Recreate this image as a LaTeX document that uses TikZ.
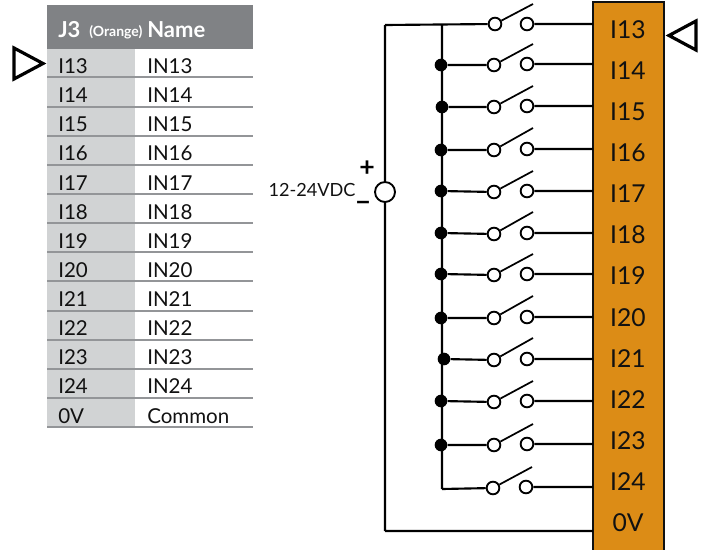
\documentclass[tikz,border=0pt]{standalone}
\usepackage{fontspec}
\setmainfont{Lato}
\definecolor{headgrey}{HTML}{808285}
\definecolor{colgrey}{HTML}{D1D3D4}
\definecolor{rulegrey}{HTML}{939598}
\definecolor{pinorange}{HTML}{DC8C16}
\definecolor{inkblack}{HTML}{111111}
\begin{document}
\begin{tikzpicture}[x=.75pt,y=-.75pt,
term/.style={draw=black,fill=white,circle,line width=1.4pt,minimum size=9.5pt,inner sep=0pt},
junc/.style={fill=black,circle,minimum size=9.5pt,inner sep=0pt},
wire/.style={line width=1.6pt},
blade/.style={line width=1.3pt},
cell/.style={anchor=west,inner sep=0pt,font=\fontsize{15.4}{16}\selectfont,text=inkblack},
head/.style={anchor=west,inner sep=0pt,text=white,font=\fontsize{16.5}{17}\selectfont\bfseries},
pin/.style={inner sep=0pt,font=\fontsize{18.5}{19}\selectfont,text=inkblack},
marker/.style={draw=black,line width=2.4pt,miter limit=8}]
\useasboundingbox (0,0) rectangle (704,550);

% table
\fill[headgrey] (47,5) rectangle (253,49);
\fill[colgrey] (47,49) rectangle (135,427);
\node (h1) at (58,30) [head] {J3};
\node (h2) at (89,32) [head,font=\fontsize{10.5}{11}\selectfont\bfseries] {(Orange)};
\node (h3) at (147,30) [head] {Name};

\node (a1) at (58,66) [cell] {I13};
\node (b1) at (147,66) [cell] {IN13};
\node (a2) at (58,95) [cell] {I14};
\node (b2) at (147,95) [cell] {IN14};
\node (a3) at (58,124) [cell] {I15};
\node (b3) at (147,124) [cell] {IN15};
\node (a4) at (58,153) [cell] {I16};
\node (b4) at (147,153) [cell] {IN16};
\node (a5) at (58,183) [cell] {I17};
\node (b5) at (147,183) [cell] {IN17};
\node (a6) at (58,212) [cell] {I18};
\node (b6) at (147,212) [cell] {IN18};
\node (a7) at (58,241) [cell] {I19};
\node (b7) at (147,241) [cell] {IN19};
\node (a8) at (58,270) [cell] {I20};
\node (b8) at (147,270) [cell] {IN20};
\node (a9) at (58,299) [cell] {I21};
\node (b9) at (147,299) [cell] {IN21};
\node (a10) at (58,328) [cell] {I22};
\node (b10) at (147,328) [cell] {IN22};
\node (a11) at (58,357) [cell] {I23};
\node (b11) at (147,357) [cell] {IN23};
\node (a12) at (58,386) [cell] {I24};
\node (b12) at (147,386) [cell] {IN24};
\node (a13) at (58,416) [cell] {0V};
\node (b13) at (147,416) [cell] {Common};

\draw[rulegrey,line width=.9pt]
(47,77) to (253,77)
(47,107) to (253,107)
(47,136) to (253,136)
(47,165) to (253,165)
(47,194) to (253,194)
(47,223) to (253,223)
(47,252) to (253,252)
(47,281) to (253,281)
(47,311) to (253,311)
(47,340) to (253,340)
(47,369) to (253,369)
(47,398) to (253,398)
(47,427) to (253,427);

\draw[marker] (14,48) -- (43,63.5) -- (14,79) -- cycle;

% terminal block
\fill[pinorange] (593,2) rectangle (664,552);
\draw[inkblack,line width=1.5pt] (593,552) -- (593,2) -- (664,2) -- (664,552);
\node (p1) at (628,30) [pin] {I13};
\node (p2) at (628,71) [pin] {I14};
\node (p3) at (628,112) [pin] {I15};
\node (p4) at (628,153) [pin] {I16};
\node (p5) at (628,194) [pin] {I17};
\node (p6) at (628,235) [pin] {I18};
\node (p7) at (628,276) [pin] {I19};
\node (p8) at (628,318) [pin] {I20};
\node (p9) at (628,359) [pin] {I21};
\node (p10) at (628,400) [pin] {I22};
\node (p11) at (628,441) [pin] {I23};
\node (p12) at (628,482) [pin] {I24};
\node (p13) at (628,523) [pin] {0V};

\draw[marker] (696,21) -- (669,35.5) -- (696,50) -- cycle;

% supply
\coordinate (c0) at (385,25);
\coordinate (c1) at (385,531);
\coordinate (e0) at (593,531);
\coordinate (j0) at (442,25);
\coordinate (j12) at (442,489);
\node (src) at (385,192) [term,minimum size=15pt] {};
\node (volt) at (312,190) [inner sep=0pt,font=\fontsize{13.6}{14}\selectfont,text=inkblack] {12-24VDC};
\node (plus) at (367,169) [inner sep=0pt,font=\fontsize{20}{20}\selectfont\bfseries] {+};
\node (minus) at (363,206) [inner sep=0pt,font=\fontsize{20}{20}\selectfont\bfseries] {\textminus};

% switches
\node (d2) at (441,65) [junc] {};
\node (d3) at (442,107) [junc] {};
\node (d4) at (441,150) [junc] {};
\node (d5) at (441,191) [junc] {};
\node (d6) at (441,233) [junc] {};
\node (d7) at (441,274) [junc] {};
\node (d8) at (441,318) [junc] {};
\node (d9) at (444,359) [junc] {};
\node (d10) at (441,401) [junc] {};
\node (d11) at (441,445) [junc] {};

\node (l1) at (495,24) [term] {};
\node (r1) at (527,24) [term] {};
\coordinate (s1) at (533,4);
\coordinate (e1) at (593,24);
\node (l2) at (494,65) [term] {};
\node (r2) at (527,64) [term] {};
\coordinate (s2) at (533,44);
\coordinate (e2) at (593,64);
\node (l3) at (494,107) [term] {};
\node (r3) at (527,106) [term] {};
\coordinate (s3) at (533,86);
\coordinate (e3) at (593,106);
\node (l4) at (494,150) [term] {};
\node (r4) at (527,149) [term] {};
\coordinate (s4) at (533,128);
\coordinate (e4) at (593,149);
\node (l5) at (494,192) [term] {};
\node (r5) at (527,191) [term] {};
\coordinate (s5) at (533,171);
\coordinate (e5) at (593,191);
\node (l6) at (494,234) [term] {};
\node (r6) at (527,233) [term] {};
\coordinate (s6) at (533,212);
\coordinate (e6) at (593,233);
\node (l7) at (494,275) [term] {};
\node (r7) at (527,274) [term] {};
\coordinate (s7) at (533,254);
\coordinate (e7) at (593,274);
\node (l8) at (494,318) [term] {};
\node (r8) at (527,317) [term] {};
\coordinate (s8) at (533,296);
\coordinate (e8) at (593,317);
\node (l9) at (494,360) [term] {};
\node (r9) at (527,359) [term] {};
\coordinate (s9) at (533,338);
\coordinate (e9) at (593,359);
\node (l10) at (494,402) [term] {};
\node (r10) at (527,401) [term] {};
\coordinate (s10) at (533,381);
\coordinate (e10) at (593,401);
\node (l11) at (494,445) [term] {};
\node (r11) at (527,444) [term] {};
\coordinate (s11) at (533,424);
\coordinate (e11) at (593,444);
\node (l12) at (493,488) [term] {};
\node (r12) at (526,487) [term] {};
\coordinate (s12) at (532,467);
\coordinate (e12) at (593,487);

\draw[wire]
(c0) to (src)
(src) to (c1)
(c1) to (e0)
(c0) to (l1)
(j0) to (j12)
(j12) to (l12)
(d2) to (l2)
(d3) to (l3)
(d4) to (l4)
(d5) to (l5)
(d6) to (l6)
(d7) to (l7)
(d8) to (l8)
(d9) to (l9)
(d10) to (l10)
(d11) to (l11)
(r1) to (e1)
(r2) to (e2)
(r3) to (e3)
(r4) to (e4)
(r5) to (e5)
(r6) to (e6)
(r7) to (e7)
(r8) to (e8)
(r9) to (e9)
(r10) to (e10)
(r11) to (e11)
(r12) to (e12);
\draw[blade]
(l1) to (s1)
(l2) to (s2)
(l3) to (s3)
(l4) to (s4)
(l5) to (s5)
(l6) to (s6)
(l7) to (s7)
(l8) to (s8)
(l9) to (s9)
(l10) to (s10)
(l11) to (s11)
(l12) to (s12);
\end{tikzpicture}
\end{document}
